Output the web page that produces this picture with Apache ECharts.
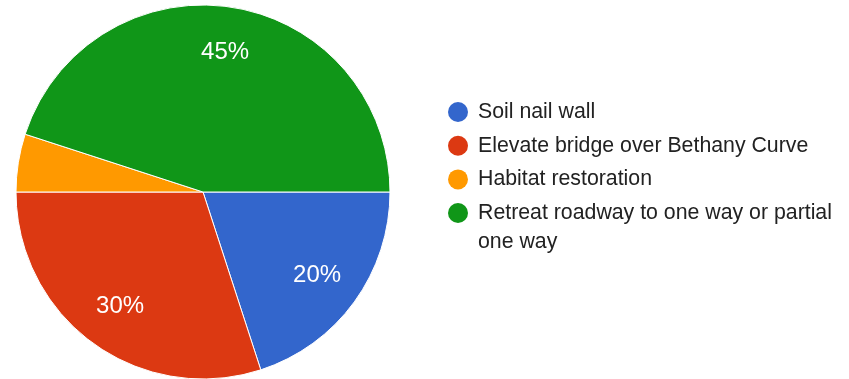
<!DOCTYPE html>
<html>
<head>
<meta charset="utf-8">
<script src="https://cdn.jsdelivr.net/npm/echarts@6/dist/echarts.min.js"></script>
<style>
  html, body { margin: 0; padding: 0; background: #fff; }
  #chart { width: 849px; height: 379px; }
</style>
</head>
<body>
<div id="chart"></div>
<script>
// Survey answers and their shares of responses (percent)
const categories = [
  'Soil nail wall',
  'Elevate bridge over Bethany Curve',
  'Habitat restoration',
  'Retreat roadway to one way or partial one way'
];
const shares = [20, 30, 5, 45];
const palette = ['#3366CC', '#DC3912', '#FF9900', '#109618'];

const FONT = '"Liberation Sans", Arial, sans-serif';
const LEGEND_FONT_SIZE = 21.3;
const LEGEND_LINE = 29;
const LEGEND_TEXT_WIDTH = 372;
const center = [203, 192];

const sliceData = categories.map((name, i) => ({
  name,
  value: shares[i],
  itemStyle: { color: palette[i] }
}));

// Greedy word wrap using the canvas text metrics of the legend font
function wrapWords(text, maxWidth) {
  const ctx = document.createElement('canvas').getContext('2d');
  ctx.font = LEGEND_FONT_SIZE + 'px ' + FONT;
  const words = text.split(' ');
  const lines = [];
  let cur = '';
  words.forEach(w => {
    const trial = cur ? cur + ' ' + w : w;
    if (cur && ctx.measureText(trial).width > maxWidth) {
      lines.push(cur);
      cur = w;
    } else {
      cur = trial;
    }
  });
  if (cur) lines.push(cur);
  return lines;
}

const legendText = {
  fontFamily: FONT,
  fontSize: LEGEND_FONT_SIZE,
  color: '#222222',
  lineHeight: LEGEND_LINE
};

const legendCommon = {
  orient: 'vertical',
  left: 448,
  padding: 0,
  itemGap: 4.7,
  itemWidth: 30,
  itemHeight: 20,
  icon: 'circle',
  itemStyle: { borderWidth: 0 }
};

const chart = echarts.init(document.getElementById('chart'), null, { renderer: 'canvas' });

chart.setOption({
  animation: false,
  backgroundColor: '#ffffff',
  legend: [
    Object.assign({}, legendCommon, {
      top: 97.5,
      data: categories.slice(0, 3),
      textStyle: legendText
    }),
    // Long answer: wrapped, with the marker beside its first line
    Object.assign({}, legendCommon, {
      top: 184,
      data: categories.slice(3),
      formatter: name => wrapWords(name, LEGEND_TEXT_WIDTH)
        .map((line, i) => (i === 0 ? '{first|' : '{rest|') + line + '}')
        .join('\n'),
      textStyle: Object.assign({}, legendText, {
        rich: {
          first: Object.assign({}, legendText, { lineHeight: LEGEND_LINE * 2 }),
          rest: Object.assign({}, legendText, { lineHeight: 0 })
        }
      })
    })
  ],
  series: [
    {
      name: 'slices',
      type: 'pie',
      center,
      radius: [0, 187],
      startAngle: 0,
      clockwise: true,
      silent: true,
      data: sliceData,
      itemStyle: { borderColor: '#ffffff', borderWidth: 1 },
      label: { show: false },
      labelLine: { show: false }
    },
    {
      // Transparent ring carrying the percentage labels at ~3/4 of the radius
      name: 'labels',
      type: 'pie',
      center,
      radius: [89, 187],
      startAngle: 0,
      clockwise: true,
      silent: true,
      data: sliceData.map(d => ({ name: d.name, value: d.value })),
      itemStyle: { color: 'rgba(0,0,0,0)', borderWidth: 0 },
      label: {
        show: true,
        position: 'inside',
        fontFamily: FONT,
        fontSize: 24,
        color: '#ffffff',
        formatter: p => (p.value >= 10 ? p.value + '%' : '')
      },
      labelLine: { show: false }
    }
  ]
});
</script>
</body>
</html>
